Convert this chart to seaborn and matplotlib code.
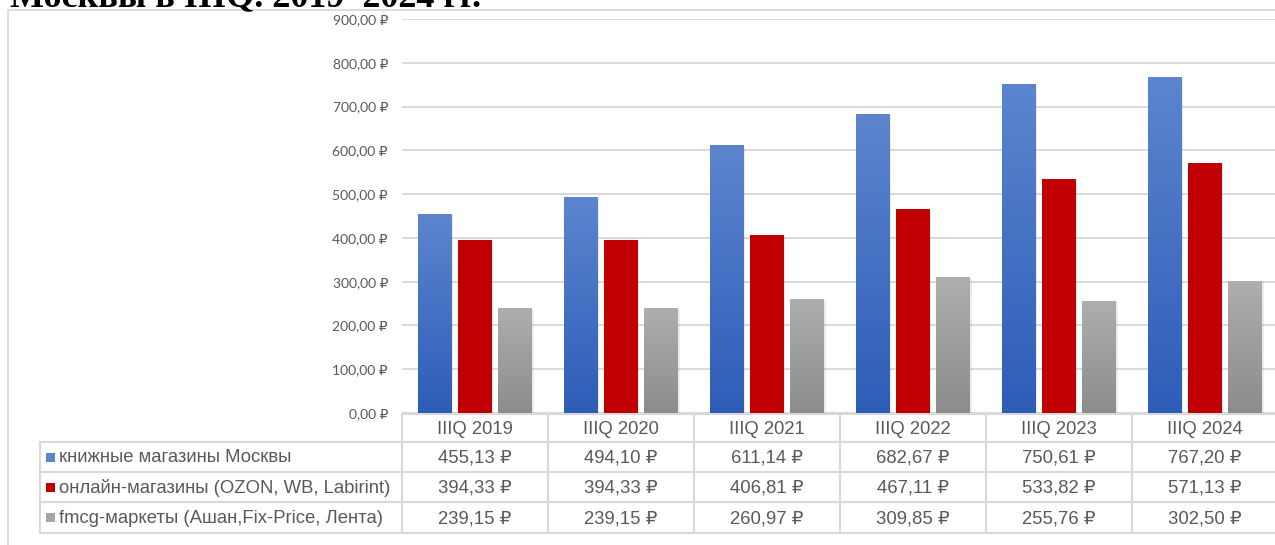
import numpy as np
import pandas as pd
import matplotlib
matplotlib.use("Agg")
import matplotlib.pyplot as plt
import seaborn as sns
from matplotlib.colors import LinearSegmentedColormap, to_hex
from matplotlib.patches import Rectangle
import matplotlib.patheffects as pe

# ---------------- data ----------------
categories = ["IIIQ 2019", "IIIQ 2020", "IIIQ 2021", "IIIQ 2022", "IIIQ 2023", "IIIQ 2024"]
series_names = ["книжные магазины Москвы",
                "онлайн-магазины (OZON, WB, Labirint)",
                "fmcg-маркеты (Ашан,Fix-Price, Лента)"]
books = [455.13, 494.10, 611.14, 682.67, 750.61, 767.20]
online = [394.33, 394.33, 406.81, 467.11, 533.82, 571.13]
fmcg = [239.15, 239.15, 260.97, 309.85, 255.76, 302.50]
y_ticks = [0, 100, 200, 300, 400, 500, 600, 700, 800, 900]
title_text = "Москвы в IIIQ. 2019–2024 гг."

series_values = [books, online, fmcg]
base_colors = ["#3D6CC6", "#C00000", "#9E9E9E"]
grad_top = ["#5C85CF", "#C00000", "#AEAEAE"]
grad_bottom = ["#2E5DB8", "#C00000", "#8C8C8C"]

rows = []
for s, vals in zip(series_names, series_values):
    for c, v in zip(categories, vals):
        rows.append({"cat": c, "series": s, "val": v})
df = pd.DataFrame(rows)

def rub(v):
    return f"{v:.2f}".replace(".", ",") + " ₽"

W, H = 1275, 545
TXT = "#595959"
GRID = "#D9D9D9"
sans = ["Liberation Sans", "DejaVu Sans"]
tickfont = ["Lato", "DejaVu Sans"]

sns.set_theme(style="white")
plt.rcParams["font.family"] = sans

fig = plt.figure(figsize=(W / 100, H / 100), dpi=100)
fig.patch.set_facecolor("white")

# ---------------- bar axes ----------------
x_left, x_right = 402, 1278
y_top, y_zero = 19, 413
ax = fig.add_axes([x_left / W, (H - y_zero) / H, (x_right - x_left) / W, (y_zero - y_top) / H])
sns.barplot(data=df, x="cat", y="val", hue="series", order=categories, hue_order=series_names,
            palette=base_colors, width=0.83, gap=0.16, saturation=1, legend=False, ax=ax)

# gradient fill + soft shadow
lc = [c.lower() for c in base_colors]
patches = [p for p in ax.patches if p.get_height() > 0]
for p in patches:
    fc = to_hex(p.get_facecolor()).lower()
    idx = lc.index(fc) if fc in lc else 0
    p.set_path_effects([pe.SimplePatchShadow(offset=(1.0, -1.0), shadow_rgbFace="k", alpha=0.08),
                        pe.Normal()])
    p.set_edgecolor("none")
    if grad_top[idx] != grad_bottom[idx]:
        cmap = LinearSegmentedColormap.from_list("g", [grad_bottom[idx], grad_top[idx]])
        grad = np.linspace(0, 1, 256).reshape(-1, 1)
        x0, w, h = p.get_x(), p.get_width(), p.get_height()
        im = ax.imshow(grad, extent=[x0, x0 + w, 0, h], origin="lower", aspect="auto",
                       cmap=cmap, zorder=p.get_zorder() + 0.1, interpolation="bilinear")
        im.set_clip_path(p)

ax.set_xlim(-0.5, 5.5)
ax.set_ylim(0, 900)
ax.set_yticks(y_ticks)
ax.set_yticklabels([rub(v) for v in y_ticks], color=TXT, fontsize=10, family=tickfont)
ax.tick_params(axis="y", length=0, pad=10)
ax.set_xticks([])
ax.set_xlabel("")
ax.set_ylabel("")
ax.yaxis.grid(True, color=GRID, lw=1.4)
ax.set_axisbelow(True)
for s in ax.spines.values():
    s.set_visible(False)
ax.patch.set_alpha(0)

# ---------------- overlay (table, frame, title) ----------------
tx = fig.add_axes([0, 0, 1, 1], zorder=-1)
tx.set_xlim(0, W)
tx.set_ylim(H, 0)
tx.axis("off")

# outer chart frame
tx.plot([8, 8], [9.5, H], color=GRID, lw=1.3)
tx.plot([8, W], [9.5, 9.5], color=GRID, lw=1.3)

# cut-off title (only the lower part is visible, as in the reference)
fig.text(10 / W, 1 - 6 / H, title_text, fontsize=26, fontweight="bold",
         family=["Liberation Serif", "DejaVu Serif"], va="baseline", ha="left", color="black")

col_edges = [402, 548, 694, 840, 986, 1132, 1278]
row_edges = [414, 442, 472, 502, 533]
tab_left = 40
lw = 1.5
tx.plot([col_edges[0], col_edges[-1]], [row_edges[0]] * 2, color=GRID, lw=lw)
for y in row_edges[1:]:
    tx.plot([tab_left, col_edges[-1]], [y, y], color=GRID, lw=lw)
for x in col_edges:
    tx.plot([x, x], [row_edges[0], row_edges[-1]], color=GRID, lw=lw)
tx.plot([tab_left, tab_left], [row_edges[1], row_edges[-1]], color=GRID, lw=lw)

fs = 13.3
for i, c in enumerate(categories):
    xc = (col_edges[i] + col_edges[i + 1]) / 2
    tx.text(xc, (row_edges[0] + row_edges[1]) / 2 + 1, c, ha="center", va="center",
            color=TXT, fontsize=fs)
    for r, vals in enumerate(series_values):
        yc = (row_edges[r + 1] + row_edges[r + 2]) / 2 + 1
        tx.text(xc, yc, rub(vals[i]), ha="center", va="center", color=TXT, fontsize=fs)

for r, name in enumerate(series_names):
    yc = (row_edges[r + 1] + row_edges[r + 2]) / 2
    tx.add_patch(Rectangle((46, yc - 4.5), 9, 9, facecolor=grad_top[r] if r != 2 else "#A5A5A5",
                           edgecolor="none"))
    tx.text(59, yc + 1, name, ha="left", va="center", color=TXT, fontsize=fs)

fig.savefig("out.png", dpi=100)
